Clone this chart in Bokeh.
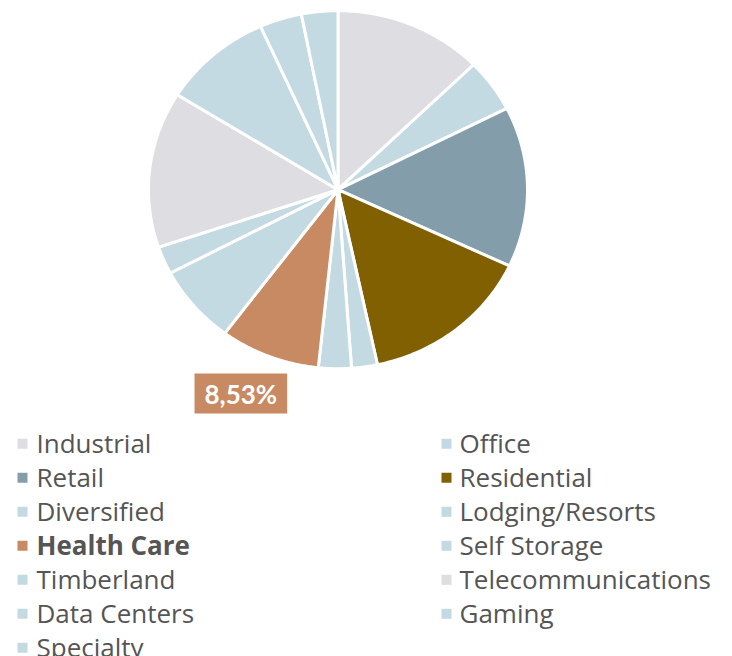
import numpy as np
from bokeh.plotting import figure
from bokeh.models import ColumnDataSource, Range1d
from bokeh.layouts import column
from bokeh.embed import file_html
from bokeh.resources import INLINE
from bokeh.core.properties import value

# ---- data ----
categories = ["Industrial", "Office", "Retail", "Residential", "Diversified",
              "Lodging/Resorts", "Health Care", "Self Storage", "Timberland",
              "Telecommunications", "Data Centers", "Gaming", "Specialty"]
shares = [12.7, 4.8, 14.5, 14.65, 2.2, 2.8, 8.53, 7.1, 2.5, 14.1, 9.4, 3.6, 3.1]
colors = ["#dddde2", "#c3dae2", "#849dab", "#806000", "#c3dae2", "#c3dae2",
          "#c78a62", "#c3dae2", "#c3dae2", "#dddde2", "#c3dae2", "#c3dae2", "#c3dae2"]
highlight = "Health Care"

FONT = "Open Sans"
TEXT_COLOR = "#555555"

# ---- pie (unit circle in data space; scales make it slightly elliptical) ----
W, H1, H2 = 732, 423, 233
cx_px, cy_px = 337.5, 189.2
sx, sy = 189.5, 179.0

pie = figure(width=W, height=H1,
             x_range=Range1d(-cx_px / sx, (W - cx_px) / sx),
             y_range=Range1d(-(H1 - cy_px) / sy, cy_px / sy),
             output_backend="svg", toolbar_location=None,
             x_axis_location=None, y_axis_location=None,
             min_border=0, outline_line_color=None)
pie.xgrid.visible = False
pie.ygrid.visible = False

vals = np.array(shares, dtype=float)
frac = vals / vals.sum()
ends = np.cumsum(frac) * 2 * np.pi
starts = ends - frac * 2 * np.pi

xs, ys = [], []
for a0, a1 in zip(starts, ends):
    t = np.linspace(a0, a1, 80)
    xs.append([0.0] + list(np.sin(t)) + [0.0])
    ys.append([0.0] + list(np.cos(t)) + [0.0])

src = ColumnDataSource(dict(xs=xs, ys=ys, color=colors, name=categories))
pie.patches("xs", "ys", source=src, fill_color="color", line_color="white",
            line_width=3, line_join="miter")

# data label for highlighted slice
hi = categories.index(highlight)
mid = (starts[hi] + ends[hi]) / 2
r_lab = 1.235
lab_src = ColumnDataSource(dict(
    x=[np.sin(mid) * r_lab], y=[np.cos(mid) * r_lab],
    t=[f"{shares[hi]:.2f}".replace(".", ",") + "%"]))
pie.text("x", "y", text="t", source=lab_src, text_align="center",
         text_baseline="middle", text_color="white", text_font=value("Lato"),
         text_font_style="bold", text_font_size="26px", x_offset=-12, y_offset=-2,
         background_fill_color=colors[hi], padding=(10, 4))

# ---- legend ----
leg = figure(width=W, height=H2, x_range=Range1d(0, W), y_range=Range1d(H2, 0),
             output_backend="svg", toolbar_location=None,
             x_axis_location=None, y_axis_location=None,
             min_border=0, outline_line_color=None)
leg.xgrid.visible = False
leg.ygrid.visible = False

idx = np.arange(len(categories))
col = idx % 2
row = idx // 2
mx = np.where(col == 0, 22.0, 446.0)
tx = np.where(col == 0, 36.0, 459.0)
my = 20.3 + 34.0 * row
ty = 19.4 + 34.0 * row
styles = ["bold" if c == highlight else "normal" for c in categories]

lsrc = ColumnDataSource(dict(mx=mx, my=my, tx=tx, ty=ty, color=colors,
                             label=categories, style=styles))
leg.scatter("mx", "my", source=lsrc, marker="square", size=10,
            fill_color="color", line_color=None)
leg.text("tx", "ty", text="label", source=lsrc, text_align="left",
         text_baseline="alphabetic", text_color=TEXT_COLOR,
         text_font=value(FONT), text_font_size="26px",
         text_font_style="style")

layout = column(pie, leg, spacing=0)
open("out.html", "w").write(file_html(layout, INLINE))
